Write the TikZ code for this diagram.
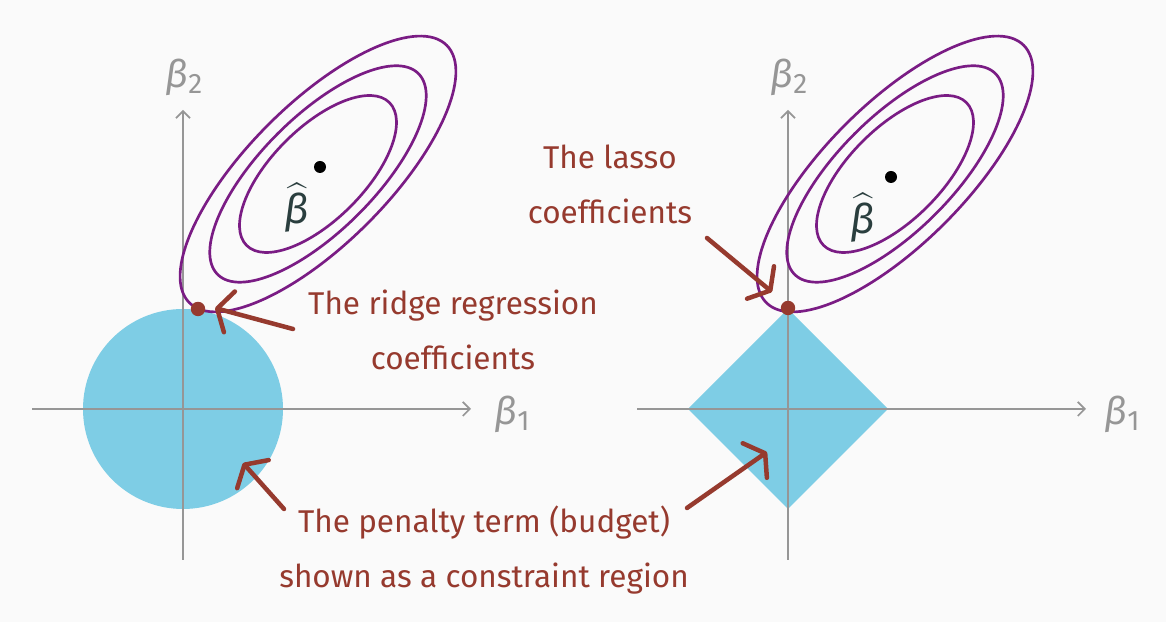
\documentclass[tikz,border=0pt]{standalone}
\usepackage{amsmath}
\usepackage{fontspec}
\setmainfont{Fira Sans}
\usetikzlibrary{arrows.meta, positioning}

\definecolor{bgGray}{RGB}{250,250,250}
\definecolor{axisGray}{RGB}{150,150,150}
\definecolor{budgetBlue}{RGB}{126,205,229}
\definecolor{contourPurple}{RGB}{122,28,132}
\definecolor{noteRed}{RGB}{150,58,46}
\definecolor{hatSlate}{RGB}{42,62,62}

\newcommand{\betaSub}[1]{{\itshape β}\raisebox{-0.3ex}{\fontsize{20}{20}\selectfont #1}}

\begin{document}
\begin{tikzpicture}[
        x=0.025cm, y=0.025cm,
        axisLine/.style={
            draw=axisGray, line width=1.2pt, -{Straight Barb[length=5pt,width=10pt]}
        },
        axisLabel/.style={
            text=axisGray, font=\fontsize{27}{27}\selectfont, inner sep=0pt
        },
        contour/.style={
            draw=contourPurple, line width=1.9pt
        },
        estDot/.style={
            circle, fill=black, inner sep=0pt, minimum size=0.3cm
        },
        solDot/.style={
            circle, fill=noteRed, inner sep=0pt, minimum size=0.36cm
        },
        hatLabel/.style={
            text=hatSlate, font=\fontsize{29}{29}\selectfont, inner sep=0pt
        },
        noteText/.style={
            text=noteRed, align=center, font=\fontsize{22.4}{39}\selectfont
        },
        pointer/.style={
            draw=noteRed, line width=3.2pt, line cap=round,
            -{Straight Barb[length=9pt,width=30pt,round]}
        }
    ]
        % Canvas
        \fill[bgGray] (0,0) rectangle (1166,622);
        \useasboundingbox (0,0) rectangle (1166,622);

        % Constraint regions
        \fill[budgetBlue] (183,213) circle [radius=100];
        \fill[budgetBlue] (688,213) -- (788,313) -- (888,213) -- (788,113) -- cycle;

        % Axes
        \coordinate (ridgeOrigin) at (183,213);
        \coordinate (ridgeXstart) at (32,213);
        \coordinate (ridgeXend) at (471,213);
        \coordinate (ridgeYstart) at (183,62);
        \coordinate (ridgeYend) at (183,512);
        \coordinate (lassoXstart) at (637,213);
        \coordinate (lassoXend) at (1086,213);
        \coordinate (lassoYstart) at (788,62);
        \coordinate (lassoYend) at (788,512);

        \draw [axisLine] (ridgeXstart) -- (ridgeXend);
        \draw [axisLine] (ridgeYstart) -- (ridgeYend);
        \draw [axisLine] (lassoXstart) -- (lassoXend);
        \draw [axisLine] (lassoYstart) -- (lassoYend);

        \node (ridgeB1) [axisLabel] at (512,208) {\betaSub{1}};
        \node (ridgeB2) [axisLabel] at (184,545) {\betaSub{2}};
        \node (lassoB1) [axisLabel] at (1122,208) {\betaSub{1}};
        \node (lassoB2) [axisLabel] at (789,545) {\betaSub{2}};

        % Contours of the loss
        \coordinate (ridgeCenter) at (318,448);
        \coordinate (lassoCenter) at (895,448);
        \draw [contour, rotate around={45:(ridgeCenter)}] (ridgeCenter) ellipse [x radius=101, y radius=46];
        \draw [contour, rotate around={45:(ridgeCenter)}] (ridgeCenter) ellipse [x radius=142, y radius=57];
        \draw [contour, rotate around={45:(ridgeCenter)}] (ridgeCenter) ellipse [x radius=182, y radius=70];
        \draw [contour, rotate around={45:(lassoCenter)}] (lassoCenter) ellipse [x radius=101, y radius=46];
        \draw [contour, rotate around={45:(lassoCenter)}] (lassoCenter) ellipse [x radius=142, y radius=57];
        \draw [contour, rotate around={45:(lassoCenter)}] (lassoCenter) ellipse [x radius=182, y radius=70];

        % Estimates
        \node (ridgeOls) [estDot] at (320,455) {};
        \node (ridgeHat) [hatLabel] at (297,414) {$\widehat{\text{\itshape β}}$};
        \node (lassoOls) [estDot] at (891,445) {};
        \node (lassoHat) [hatLabel] at (863,404) {$\widehat{\text{\itshape β}}$};

        \node (ridgeSol) [solDot] at (198,313) {};
        \node (lassoSol) [solDot] at (788,314) {};

        % Notes
        \node (ridgeText) [noteText] at (453,292) {The ridge regression\\coefficients};
        \node (lassoText) [noteText] at (610,438) {The lasso\\coefficients};
        \node (penaltyText) [noteText] at (484,72) {The penalty term (budget)\\shown as a constraint region};

        % Arrows
        \coordinate (ridgeFrom) at (293,293);
        \coordinate (ridgeTip) at (215,314);
        \coordinate (lassoFrom) at (707,384);
        \coordinate (lassoTip) at (772,330);
        \coordinate (circleFrom) at (284,113);
        \coordinate (circleTip) at (243,159);
        \coordinate (diamondFrom) at (687,114);
        \coordinate (diamondTip) at (767,170);

        \draw [pointer] (ridgeFrom) -- (ridgeTip);
        \draw [pointer] (lassoFrom) -- (lassoTip);
        \draw [pointer] (circleFrom) -- (circleTip);
        \draw [pointer] (diamondFrom) -- (diamondTip);
    \end{tikzpicture}
\end{document}
